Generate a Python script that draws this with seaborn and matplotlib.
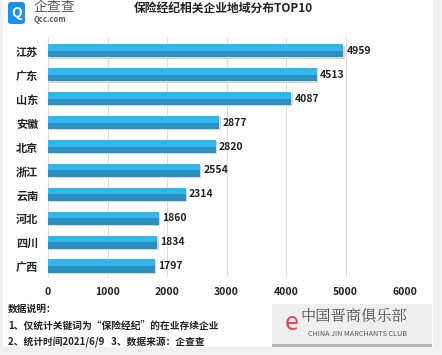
import matplotlib
matplotlib.use('agg')
import matplotlib.pyplot as plt
from matplotlib.patches import FancyBboxPatch, Rectangle
import seaborn as sns
import pandas as pd

# datos del gráfico
provincias = ['江苏', '广东', '山东', '安徽', '北京', '浙江', '云南', '河北', '四川', '广西']
empresas = [4959, 4513, 4087, 2877, 2820, 2554, 2314, 1860, 1834, 1797]
ticks_x = [0, 1000, 2000, 3000, 4000, 5000, 6000]

df = pd.DataFrame({'provincia': provincias, 'empresas': empresas})

sns.set_theme(style='white')
plt.rcParams['font.family'] = ['Noto Sans CJK SC', 'DejaVu Sans']

fig = plt.figure(figsize=(4.42, 3.55), dpi=100)
fig.patch.set_facecolor('#f1f1f1')

# tarjeta blanca de fondo
fig.patches.append(Rectangle((3 / 442, 1 - 347 / 355), 430 / 442, 347 / 355,
                             transform=fig.transFigure, facecolor='white',
                             edgecolor='none', zorder=-1))

ax = fig.add_axes([48 / 442, 1 - 277 / 355, 357 / 442, 239 / 355])
ax.set_zorder(1)
ax.set_facecolor('none')

alto = 0.55
posiciones = list(range(len(provincias)))

# sombra, parte clara y parte oscura de cada barra
ax.barh([p + 0.05 for p in posiciones], [v + 25 for v in empresas], height=alto,
        color='#d6d6d6', linewidth=0, zorder=1)
sns.barplot(data=df, x='empresas', y='provincia', orient='h', color='#33b6ec',
            width=alto, saturation=1, linewidth=0, ax=ax, zorder=2)
ax.barh([p + alto / 4 for p in posiciones], empresas, height=alto / 2,
        color='#2a90c4', linewidth=0, zorder=3)

for p, v in zip(posiciones, empresas):
    ax.text(v + 55, p, str(v), va='center', ha='left', fontsize=7.5,
            fontweight='bold', color='#222222', zorder=4)

ax.set_xlim(0, 6000)
ax.set_ylim(len(provincias) - 0.54, -0.54)
ax.set_xticks(ticks_x)
ax.set_xticklabels([str(t) for t in ticks_x], fontsize=7.5, fontweight='bold',
                   color='#222222')
ax.set_yticks(posiciones)
ax.set_yticklabels(provincias, fontsize=8, fontweight='bold', color='#222222')
ax.tick_params(axis='both', length=0, pad=7)
ax.set_xlabel('')
ax.set_ylabel('')
ax.grid(axis='x', color='#dddddd', linewidth=0.8, zorder=0)
ax.set_axisbelow(True)
for s in ax.spines.values():
    s.set_visible(False)

# título
fig.text(223 / 442, 1 - 8 / 355, '保险经纪相关企业地域分布TOP10', ha='center',
         va='center', fontsize=8.5, fontweight='bold', color='#222222')

# logotipo
fig.patches.append(FancyBboxPatch((8 / 442, 1 - 24 / 355), 17 / 442, 22 / 355,
                                  boxstyle='round,pad=0,rounding_size=0.008',
                                  transform=fig.transFigure, facecolor='#1e8ff0',
                                  edgecolor='none', zorder=5))
fig.text(16.5 / 442, 1 - 13 / 355, 'Q', ha='center', va='center', fontsize=10,
         fontweight='bold', color='white', zorder=6)
fig.text(34 / 442, 1 - 7.5 / 355, '企查查', ha='left', va='center', fontsize=10,
         color='#5a5a5a')
fig.text(34 / 442, 1 - 20 / 355, 'Qcc.com', ha='left', va='center', fontsize=5.5,
         color='#5a5a5a', fontweight='bold')

# notas inferiores
notas = ['数据说明：', '1、仅统计关键词为“保险经纪”的在业存续企业',
         '2、统计时间2021/6/9   3、数据来源：企查查']
for i, n in enumerate(notas):
    fig.text(8 / 442, 1 - (309 + i * 16.5) / 355, n, ha='left', va='center',
             fontsize=7, fontweight='bold', color='#222222')

# marca de agua
fig.patches.append(Rectangle((272 / 442, 1 - 344 / 355), 160 / 442, 40 / 355,
                             transform=fig.transFigure, facecolor='#efefef',
                             edgecolor='none', zorder=5))
fig.patches.append(Rectangle((272 / 442, 1 - 347 / 355), 160 / 442, 3 / 355,
                             transform=fig.transFigure, facecolor='#b5b5b5',
                             edgecolor='none', zorder=5))
fig.text(292 / 442, 1 - 323 / 355, 'e', ha='center', va='center', fontsize=18,
         color='#e8444c', style='italic', zorder=6)
fig.text(300 / 442, 1 - 316 / 355, '中国晋商俱乐部', ha='left', va='center',
         fontsize=11, color='#555555', zorder=6,
         family=['Noto Serif CJK SC', 'Noto Sans CJK SC', 'DejaVu Sans'])
fig.text(308 / 442, 1 - 334 / 355, 'CHINA JIN MARCHANTS CLUB', ha='left',
         va='center', fontsize=5.2, color='#555555', zorder=6)

fig.savefig('out.png', dpi=100)
